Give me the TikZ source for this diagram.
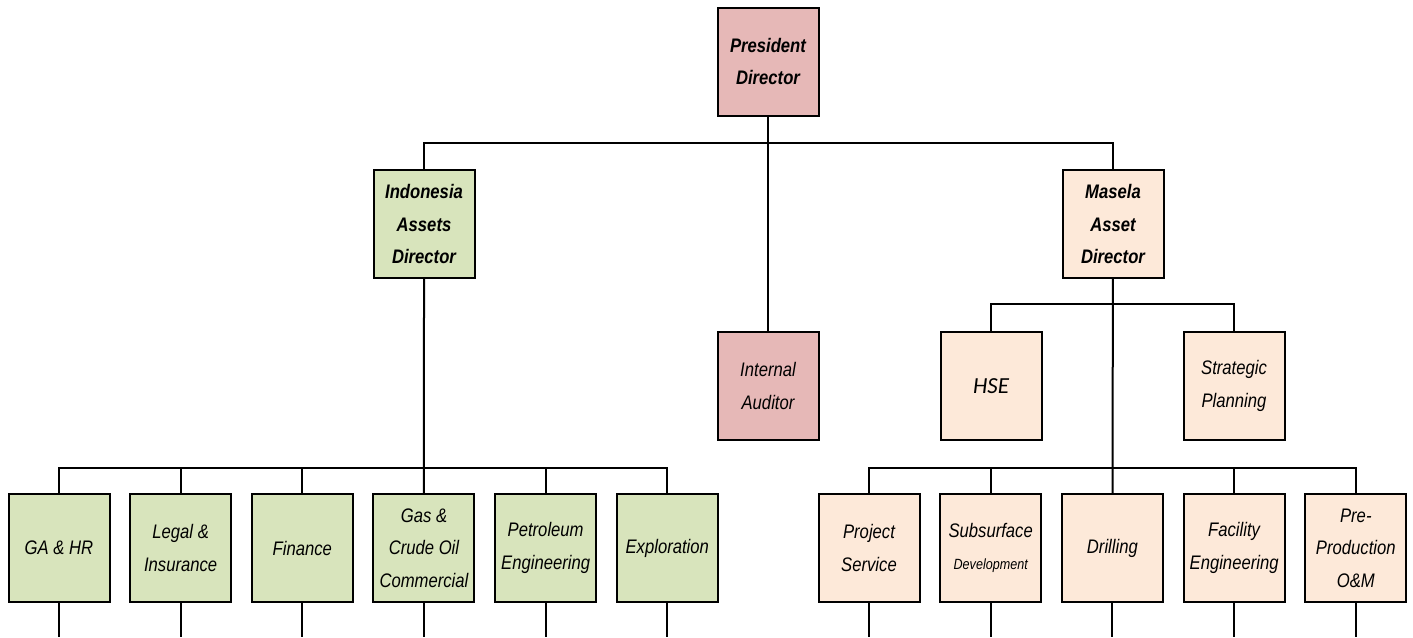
\documentclass[tikz,border=0pt]{standalone}
\usepackage{fontspec}
\setmainfont[FakeStretch=0.85]{Liberation Sans}
\newfontfamily\hsefont{Carlito}
\usepackage{tikz}

\definecolor{pinkbox}{RGB}{230,184,183}
\definecolor{greenbox}{RGB}{216,228,188}
\definecolor{peachbox}{RGB}{253,233,217}

\begin{document}
\begin{tikzpicture}[x=0.5pt, y=-0.5pt]
      \tikzset{
        box/.style={draw, rectangle, line width=1pt, minimum width=50.5pt, minimum height=54pt, inner sep=0pt, align=center, font=\itshape\fontsize{9.8}{16.25}\selectfont},
        director/.style={box, font=\bfseries\itshape\fontsize{9.8}{16.25}\selectfont},
        board/.style={box, fill=pinkbox},
        indo/.style={box, fill=greenbox, node distance=60.83pt},
        masela/.style={box, fill=peachbox, node distance=60.85pt},
        line/.style={draw, line width=1pt},
      }
      \useasboundingbox (0,0) rectangle (1413,637);

      \node [director, fill=pinkbox] (pres) at (768,61.5) {President\\Director};
      \node [board, below of = pres, node distance=162.25pt] (audit) {Internal\\Auditor};
      \node [director, fill=greenbox] (indodir) at (424,224) {Indonesia\\Assets\\Director};
      \node [director, fill=peachbox] (masdir) at (1113,224) {Masela\\Asset\\Director};

      \node [masela] (hse) at (991,386) {\hsefont\itshape\fontsize{11.5}{16}\selectfont HSE};
      \node [masela, right of = hse, node distance=121.5pt] (strat) {Strategic\\Planning};

      \node [indo] (gahr) at (59,548) {GA \& HR};
      \node [indo, right of = gahr] (legal) {Legal \&\\Insurance};
      \node [indo, right of = legal] (fin) {Finance};
      \node [indo, right of = fin] (gas) {Gas \&\\Crude Oil\\Commercial};
      \node [indo, right of = gas] (petro) {Petroleum\\Engineering};
      \node [indo, right of = petro] (explo) {Exploration};

      \node [masela] (proj) at (869,548) {Project\\Service};
      \node [masela, right of = proj] (subs) {Subsurface\\{\fontsize{7.4}{10}\selectfont Development}};
      \node [masela, right of = subs] (drill) {Drilling};
      \node [masela, right of = drill] (facil) {Facility\\Engineering};
      \node [masela, right of = facil] (preprod) {Pre-\\Production\\O\&M};

      \coordinate (topbus) at (768,143);
      \coordinate (hsebus) at (1113,304);
      \coordinate (leftbus) at (424,468);
      \coordinate (rightbus) at (1113,468);
      \coordinate (edge) at (0,637);

      \path [line] (pres)--(audit);
      \path [line] (indodir.north) |- (topbus) -| (masdir.north);
      \path [line] (hse.north) |- (hsebus) -| (strat.north);
      \path [line] (masdir)--(drill);
      \path [line] (indodir)--(gas);
      \path [line] (gahr.north) |- (leftbus) -| (explo.north);
      \path [line] (proj.north) |- (rightbus) -| (preprod.north);
      \foreach \n in {legal, fin, petro, subs, facil}
        \path [line] (\n.north)--(\n.north |- leftbus);
      % stubs to the next level
      \foreach \n in {gahr, legal, fin, gas, petro, explo, proj, subs, drill, facil, preprod}
        \path [line] (\n.south)--(\n.south |- edge);
      \end{tikzpicture}
\end{document}
